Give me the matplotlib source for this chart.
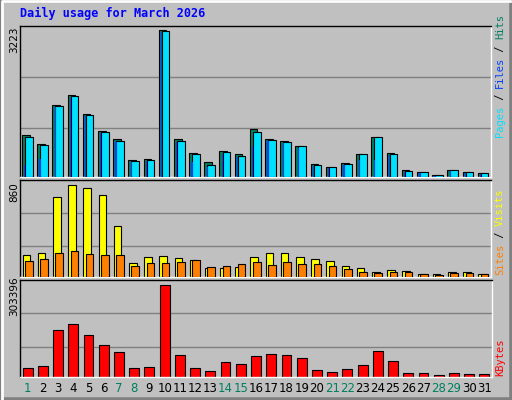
import matplotlib
matplotlib.use("Agg")
import matplotlib.pyplot as plt
import numpy as np

days = list(range(1, 32))
weekend = [1, 7, 8, 14, 15, 21, 22, 28, 29]
hits_px = [342,370,253,223,280,331,355,418,415,27,355,397,424,391,400,325,355,361,376,430,439,427,400,349,397,448,454,462,448,454,457]
files_px = [349,373,256,226,283,334,361,421,418,31,361,400,433,394,406,334,358,364,376,433,439,430,400,349,400,451,454,463,448,454,457]
pages_px = [433,415,259,232,286,337,364,424,421,34,364,424,439,400,409,376,361,367,382,436,442,433,418,418,403,454,457,465,451,457,460]
hits = [round((469 - y) / 442 * 3223) for y in hits_px]
files = [round((469 - y) / 442 * 3223) for y in files_px]
pages = [round((469 - y) / 442 * 3223) for y in pages_px]
visits_px = [703,697,529,493,502,523,616,727,709,706,712,718,742,742,739,709,697,697,709,715,721,736,742,754,748,751,760,760,754,754,760]
sites_px = [721,715,697,691,700,703,703,736,727,727,724,718,739,736,730,724,733,724,730,730,736,745,754,757,754,754,760,763,757,757,760]
visits = [round((770 - y) / 277 * 860) for y in visits_px]
sites = [round((770 - y) / 277 * 860) for y in sites_px]
kb_px = [289,283,178,159,193,223,243,289,286,43,250,289,298,271,277,253,247,250,259,295,301,292,280,241,268,304,304,310,304,307,307]
kbytes = [round((317 - y) / 274 * 303396) for y in kb_px]

W, H = 512, 400
fig = plt.figure(figsize=(5.12, 4.0), dpi=100)
fig.patch.set_facecolor("#C0C0C0")
fig.add_artist(plt.Rectangle((0, 0), 1, 1, transform=fig.transFigure, fill=False, ec="#808080", lw=4))
fig.add_artist(plt.Line2D([0.003, 0.003, 0.997], [0.003, 0.997, 0.997], transform=fig.transFigure, color="white", lw=2))

def ax_at(x0, y0, x1, y1):
    a = fig.add_axes([x0 / W, 1 - y1 / H, (x1 - x0) / W, (y1 - y0) / H])
    a.set_facecolor("#C0C0C0")
    a.set_xticks([]); a.set_yticks([])
    for s in a.spines.values():
        s.set_color("black"); s.set_linewidth(1)
    a.spines["right"].set_color("white")
    a.spines["bottom"].set_color("white")
    a.set_xlim(0.5, 31.5)
    return a

x = np.array(days)
ec = dict(edgecolor="black", linewidth=0.8)

a1 = ax_at(20, 26, 491, 177)
top1 = 3223 * (177 - 26) / (176 - 29)
a1.set_ylim(0, top1)
for g in [3223 * (176 - 76) / 147, 3223 * (176 - 127) / 147]:
    a1.axhline(g, color="#808080", lw=1, zorder=0)
a1.bar(x - 0.12, hits, width=0.5, color="#00805F", zorder=2, **ec)
a1.bar(x + 0.08, files, width=0.5, color="#00E0FF", zorder=3, **ec)
a1.bar(x - 0.18, pages, width=0.08, color="#0040FF", zorder=4, linewidth=0)

a2 = ax_at(20, 180, 491, 277)
a2.set_ylim(0, 860 * 97 / 92)
for g in [860 * (277 - 213) / 92, 860 * (277 - 246) / 92]:
    a2.axhline(g, color="#808080", lw=1, zorder=0)
a2.bar(x - 0.08, visits, width=0.5, color="#FFFF00", zorder=2, **ec)
a2.bar(x + 0.08, sites, width=0.5, color="#FF8000", zorder=3, **ec)

a3 = ax_at(20, 280, 492, 377)
a3.set_ylim(0, 303396 * 96 / 91)
for g in [303396 * (376 - 313) / 91, 303396 * (376 - 346) / 91]:
    a3.axhline(g, color="#808080", lw=1, zorder=0)
a3.bar(x, kbytes, width=0.65, color="#FF0000", zorder=2, **ec)
for d in days:
    a3.text(d, -0.05, str(d), transform=a3.get_xaxis_transform(), ha="center", va="top",
            fontsize=8.5, color="#00805F" if d in weekend else "black")

fig.text(20 / W, 1 - 13 / H, "Daily usage for March 2026", color="#0000FF", fontsize=8.5,
         fontweight="bold", family="DejaVu Sans Mono", va="center", ha="left")
for lab, yc in [("3223", 40), ("860", 192), ("303396", 296)]:
    fig.text(14 / W, 1 - yc / H, lab, rotation=90, fontsize=7.5, ha="center", va="center")

def vlabel(parts, xc, ybottom):
    y = ybottom
    for txt, col in parts:
        fig.text(xc / W, 1 - y / H, txt, rotation=90, color=col, fontsize=7.5,
                 family="DejaVu Sans Mono", ha="center", va="bottom")
        y -= len(txt) * 6.1

vlabel([("Pages", "#00E0FF"), (" / ", "black"), ("Files", "#0040FF"), (" / ", "black"), ("Hits", "#00805F")], 500, 137)
vlabel([("Sites", "#FF8000"), (" / ", "black"), ("Visits", "#FFFF00")], 500, 275)
vlabel([("KBytes", "#FF0000")], 500, 376)

fig.savefig("out.png", dpi=100, facecolor=fig.get_facecolor())
